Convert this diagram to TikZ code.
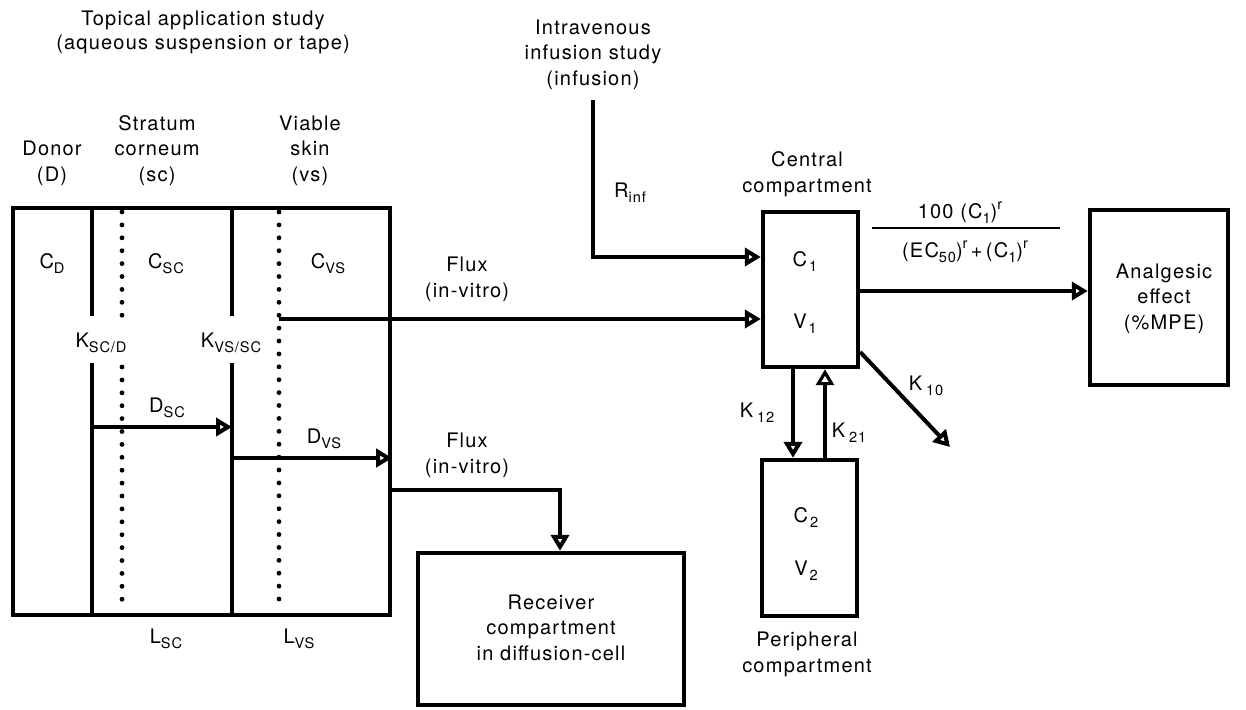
\documentclass[tikz,border=0pt]{standalone}
\usepackage{fontspec}
\setmainfont{TeX Gyre Heros}[LetterSpace=6]
\usetikzlibrary{arrows.meta}
\newcommand\lsub[1]{\raisebox{-2.6pt}{\fontsize{7.3}{8}\selectfont #1}}
\newcommand\lsup[1]{\raisebox{4.2pt}{\fontsize{7.3}{8}\selectfont #1}}
\begin{document}
\begin{tikzpicture}[x=0.5pt,y=-0.5pt,
  font=\fontsize{10}{12.6}\selectfont,
  box/.style={draw,line width=2.2pt,inner sep=0pt},
  lbl/.style={inner sep=0pt,anchor=base,align=center},
  conn/.style={line width=2pt,-{Triangle[open,length=8pt,width=9pt]}},
  wall/.style={line width=2.2pt},
  dotline/.style={line width=2.4pt,line cap=round,dash pattern=on 0pt off 6.45pt}]
\useasboundingbox (0,0) rectangle (1246,709);

% boxes
\node[box,minimum width=188.5pt,minimum height=203.5pt] (skin) at (201.5,411.5) {};
\node[box,minimum width=47.5pt,minimum height=77.5pt] (central) at (810.5,289.5) {};
\node[box,minimum width=47.5pt,minimum height=78pt] (periph) at (809.5,538) {};
\node[box,minimum width=133pt,minimum height=76pt] (receiver) at (551,629) {};
\node[box,minimum width=69pt,minimum height=87.5pt] (effect) at (1159,297.5) {};

% skin layers
\draw[wall] (92,208) -- (92,316) (92,363) -- (92,615);
\draw[wall] (232,208) -- (232,316) (232,363) -- (232,615);
\draw[dotline] (122,212) -- (122,316) (122,367) -- (122,604);
\draw[dotline] (279,212) -- (279,604);

% top labels (anchor = baseline of last line)
\node[lbl,font=\fontsize{10}{12}\selectfont] (topical) at (203,49) {Topical application study\\(aqueous suspension or tape)};
\node[lbl] (donor) at (52,181) {Donor\\(D)};
\node[lbl] (stratum) at (157,181) {Stratum\\corneum\\(sc)};
\node[lbl] (viable) at (310,181) {Viable\\skin\\(vs)};
\node[lbl] (iv) at (593,85) {Intravenous\\infusion study\\(infusion)};
\node[lbl] (centlbl) at (807,192) {Central\\compartment};
\node[lbl] (perlbl) at (807,672) {Peripheral\\compartment};

% labels inside skin
\node[lbl] (cd) at (52,268) {C\lsub{D}};
\node[lbl] (csc) at (166,268) {C\lsub{SC}};
\node[lbl] (cvs) at (328,268) {C\lsub{VS}};
\node[lbl] (ksc) at (101,347) {K\lsub{SC/D}};
\node[lbl] (kvs) at (231,347) {K\lsub{VS/SC}};
\node[lbl] (dsc) at (167,412) {D\lsub{SC}};
\node[lbl] (dvs) at (324,443) {D\lsub{VS}};
\node[lbl] (lsc) at (166,643) {L\lsub{SC}};
\node[lbl] (lvs) at (299,643) {L\lsub{VS}};

% compartment contents
\node[lbl] (c1) at (805,266) {C\hspace{1pt}\lsub{1}};
\node[lbl] (v1) at (805,328) {V\hspace{1pt}\lsub{1}};
\node[lbl] (c2) at (806,522) {C\hspace{1pt}\lsub{2}};
\node[lbl] (v2) at (806,575) {V\hspace{1pt}\lsub{2}};
\node[lbl] (rcvtxt) at (551,660) {Receiver\\compartment\\in diffusion-cell};
\node[lbl] (efftxt) at (1164,329) {Analgesic\\effect\\(\%MPE)};

% flux labels
\node[lbl] (flux1) at (467,297) {Flux\\(in-vitro)};
\node[lbl] (flux2) at (467,473) {Flux\\(in-vitro)};
\node[lbl] (rinflbl) at (630,197) {R\lsub{inf}};
\node[lbl] (k12) at (757,417) {K\hspace{2pt}\lsub{12}};
\node[lbl] (k21) at (849,437) {K\hspace{2pt}\lsub{21}};
\node[lbl] (k10) at (926,390) {K\hspace{2pt}\lsub{10}};

% equation
\node[lbl] (num) at (960,218) {100 (C\lsub{1})\lsup{r}};
\node[lbl] (den) at (965,257) {(EC\lsub{50})\lsup{r}\,+\,(C\lsub{1})\lsup{r}};
\coordinate (barL) at (872,228);
\coordinate (barR) at (1060,228);
\draw[line width=1pt] (barL) -- (barR);

% connectors
\coordinate (dsc0) at (92,427);
\coordinate (dsc1) at (232,427);
\draw[conn] (dsc0) -- (dsc1);
\coordinate (dvs0) at (232,458);
\draw[conn] (dvs0) -- (skin.east |- dvs0);
\coordinate (fx1) at (279,319);
\draw[conn] (fx1) -- (central.west |- fx1);
\coordinate (fx2) at (390,490);
\coordinate (rcvx) at (560,0);
\draw[conn] (fx2) -| (receiver.north -| rcvx);
\coordinate (rinf) at (593,100);
\coordinate (yR) at (0,257);
\draw[conn] (rinf) |- (central.west |- yR);
\coordinate (yE) at (0,291);
\draw[conn] (central.east |- yE) -- (effect.west |- yE);
\coordinate (xk12) at (793,0);
\draw[conn] (central.south -| xk12) -- (periph.north -| xk12);
\coordinate (xk21) at (825,0);
\draw[conn,line width=1.6pt] (periph.north -| xk21) -- (central.south -| xk21);
\coordinate (k10s) at (858,352);
\coordinate (k10e) at (950,447);
\draw[conn] (central.east |- k10s) -- (k10e);
\end{tikzpicture}
\end{document}
